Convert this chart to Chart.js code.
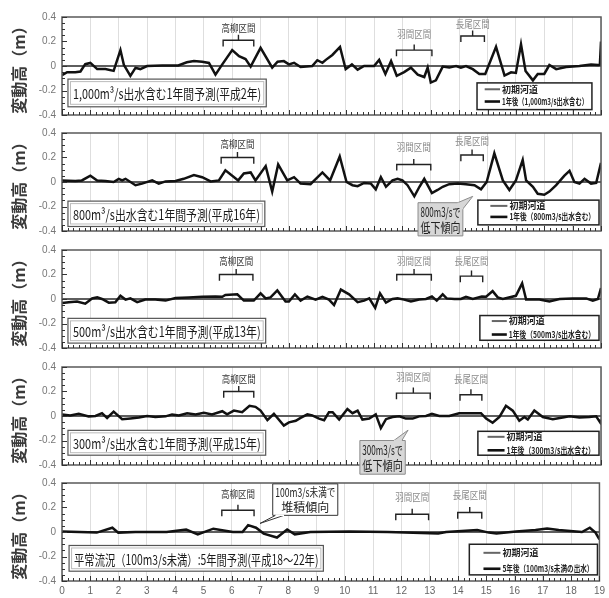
<!DOCTYPE html>
<html><head><meta charset="utf-8">
<script src="https://cdn.jsdelivr.net/npm/chart.js@4.4.1/dist/chart.umd.min.js"></script>
<style>
html,body{margin:0;padding:0;background:#fff;}
#wrap{position:relative;width:609px;height:598px;overflow:hidden;background:#fff;}
canvas{position:absolute;left:0;}
</style></head><body><div id="wrap"></div>
<script>
// ---- data (distance km, bed change m) ----
const xTickValues = [0,1,2,3,4,5,6,7,8,9,10,11,12,13,14,15,16,17,18,19];
const yTickValues = [-0.4,-0.2,0,0.2,0.4];

const baseKm = [0, 19];
const baseDz = [0, 0];

const km1 = [0,0.18,0.47,0.65,0.82,1.0,1.24,1.53,1.82,2.06,2.18,2.41,2.59,2.76,3.0,3.53,4.1,4.4,4.65,4.94,5.18,5.41,5.65,6.0,6.24,6.47,6.65,7.0,7.41,7.6,7.82,8.0,8.18,8.41,8.82,9.0,9.18,9.3,9.53,9.8,10.0,10.22,10.42,10.65,11.0,11.18,11.4,11.6,11.8,12.06,12.3,12.54,12.77,12.89,13.0,13.18,13.42,13.65,13.89,14.06,14.24,14.48,14.71,14.92,15.3,15.6,15.83,16.0,16.18,16.34,16.6,16.77,17.0,17.18,17.42,17.77,18.24,18.65,18.9,18.96,19.0];
const dz1 = [-0.075,-0.05,-0.05,-0.045,0.015,0.025,-0.025,-0.025,-0.04,0.13,0.01,-0.08,-0.015,-0.025,0,0.005,0.005,0.03,0.04,0.035,0.025,-0.07,0.013,0.13,0.08,0.057,-0.005,0.148,-0.013,0.035,0.04,0.013,0.026,-0.008,0,0.047,0.026,0.05,0.09,0.156,-0.026,0.013,-0.03,0,0,0.05,-0.065,0.04,-0.08,-0.05,-0.013,-0.07,-0.09,-0.013,-0.135,-0.117,-0.005,-0.013,0,-0.013,0,-0.026,-0.065,-0.065,0.156,-0.078,-0.052,-0.057,0.177,-0.04,-0.117,-0.065,-0.065,0.008,-0.026,-0.008,0,0.013,0.008,0.01,0.2];

const km2 = [0,0.47,0.7,1.0,1.24,1.53,1.82,2.0,2.12,2.24,2.59,2.82,3.18,3.41,3.65,4.0,4.29,4.65,4.94,5.24,5.53,5.76,6.21,6.41,6.65,6.82,7.18,7.41,7.62,7.94,8.18,8.41,8.76,9.18,9.45,9.79,10.03,10.24,10.42,10.65,10.89,11.06,11.24,11.42,11.65,11.83,12.0,12.18,12.42,12.6,12.77,13.04,13.24,13.42,13.65,13.95,14.24,14.54,14.77,14.97,15.24,15.54,15.77,16.0,16.24,16.36,16.6,16.77,17.0,17.18,17.42,17.71,17.89,18.06,18.24,18.42,18.65,18.83,19.0];
const dz2 = [0.013,0.008,0.013,0.052,0.013,0.008,0,0.026,0.013,0.026,-0.026,-0.013,0.013,-0.013,0.005,0.008,0.026,0.057,0.039,0.005,0.013,0.096,0.013,0.07,0.078,0.013,0.13,-0.078,0.143,0.013,0.039,-0.013,-0.018,0.078,0.013,0.208,0,-0.026,-0.034,-0.008,-0.013,-0.06,0.039,-0.039,0.013,0.026,0.013,-0.026,-0.117,-0.039,0.026,-0.09,-0.065,-0.039,-0.018,-0.013,-0.018,-0.026,-0.06,0,0.234,0.013,-0.065,0.013,0.18,0.013,-0.039,-0.096,-0.104,-0.078,-0.026,0.052,0.091,0,-0.013,0.026,-0.013,-0.008,0.156];

const km3 = [0,0.24,0.53,0.82,1.06,1.24,1.41,1.65,1.88,2.06,2.24,2.41,2.65,2.94,3.29,3.65,4.0,4.47,4.94,5.41,5.65,5.76,6.18,6.41,6.76,7.0,7.18,7.35,7.59,7.88,8.0,8.21,8.41,8.65,8.94,9.18,9.41,9.59,9.83,10.12,10.42,10.65,10.83,11.04,11.21,11.42,11.65,11.83,12.06,12.3,12.59,12.83,13.04,13.21,13.42,13.56,13.83,14.06,14.24,14.48,14.8,14.95,15.18,15.36,15.54,16.0,16.22,16.36,16.83,17.18,17.54,18.0,18.48,18.71,18.89,19.0];
const dz3 = [-0.033,-0.026,-0.02,-0.038,0.005,0.013,0,-0.03,-0.026,0.026,-0.005,0.005,-0.026,-0.005,-0.005,-0.013,0.008,0.013,0.018,0.02,0.018,0.033,0.038,-0.013,-0.013,0.046,0.005,0.013,0.07,-0.02,-0.02,0.038,-0.013,0.02,-0.005,0.018,-0.005,-0.05,0.077,0.038,-0.026,-0.013,0.005,-0.072,0.046,-0.03,0,0.005,-0.005,-0.02,-0.005,0,0.02,-0.013,0.038,0.005,0,0,0.018,0,0.02,0.018,0.064,0.013,0,0.026,0.128,-0.005,-0.005,-0.02,0,0.005,0.005,-0.013,0,0.09];

const km4 = [0,0.29,0.59,0.94,1.18,1.41,1.59,1.82,2.12,2.41,2.71,3.0,3.29,3.65,3.88,4.12,4.41,4.71,5.0,5.29,5.65,5.82,6.06,6.35,6.61,6.82,7.0,7.24,7.47,7.82,8.0,8.24,8.41,8.65,8.82,9.06,9.24,9.41,9.54,9.77,10.06,10.24,10.42,10.59,10.83,11.06,11.24,11.42,11.65,11.89,12.12,12.36,12.59,12.83,13.04,13.3,13.65,14.0,14.36,14.77,14.95,15.18,15.42,15.65,15.89,16.12,16.3,16.42,16.65,16.95,17.3,17.65,17.89,18.24,18.59,18.83,18.97,19.0];
const dz4 = [0.013,0.005,0.018,-0.003,0,0.023,-0.016,0.036,-0.026,-0.02,-0.013,0,-0.008,-0.003,0.013,0.005,0.023,0.013,0.026,0.013,0.039,0.013,0.044,0.031,0.083,0.075,0.044,-0.034,0.018,-0.078,-0.052,-0.039,-0.016,0.013,0.005,-0.021,-0.034,0.031,0.031,-0.029,0.057,0.023,0.044,-0.029,-0.021,0.013,-0.099,-0.026,-0.008,-0.003,-0.021,-0.021,-0.003,0,0.018,0,0,0.023,0.023,0.023,-0.021,-0.055,-0.008,0.083,0.044,-0.039,-0.008,-0.029,0.044,-0.008,-0.026,-0.013,-0.003,-0.013,-0.008,-0.003,-0.052,-0.03];

const km5 = [0,1.23,1.78,1.99,2.6,3.7,4.39,4.8,5.35,6.04,6.38,6.58,6.86,7.13,7.6,7.96,8.23,8.78,10.15,11.52,13.3,13.58,14.68,15.09,15.36,16.05,16.74,17.15,17.56,18.38,18.66,18.86,19.0];
const dz5 = [0.005,-0.005,0.035,-0.005,0,0,0.02,-0.02,0.027,0,0,0.056,0.035,-0.013,-0.045,0.021,-0.019,0,0.005,0,-0.013,0,0.016,-0.005,-0.013,0.005,0.016,0.029,0.016,0,0.035,-0.005,-0.06];

const seriesKm = [km1, km2, km3, km4, km5];
const seriesDz = [dz1, dz2, dz3, dz4, dz5];

const panelTitles = [
  '1,000m³/s出水含む1年間予測(平成2年)',
  '800m³/s出水含む1年間予測(平成16年)',
  '500m³/s出水含む1年間予測(平成13年)',
  '300m³/s出水含む1年間予測(平成15年)',
  '平常流況（100m3/s未満）:5年間予測(平成18～22年)'
];
const baseLabel = '初期河道';
const afterLabels = [
  '1年後（1,000m3/s出水含む）',
  '1年後（800m3/s出水含む）',
  '1年後（500m3/s出水含む）',
  '1年後（300m3/s出水含む）',
  '5年後（100m3/s未満の出水）'
];
const sectionNames = ['高柳区間', '羽間区間', '長尾区間'];
const calloutTexts = [null, ['800m3/sで','低下傾向'], null, ['300m3/sで','低下傾向'], ['100m3/s未満で','堆積傾向']];
const yTitle = '変動高（m）';

// ---- layout / style (km & m coordinates resolved through the scales) ----
const Y04 = [12, 128, 245, 362, 478];
const PLOT_H = 103;
// brackets: [x0, x1, barY, labelY] per section
const bracketPos = [
  [[5.68,6.76,0.21,0.31],[11.79,13.04,0.13,0.26],[14.06,14.89,0.245,0.345]],
  [[5.61,6.76,0.2,0.31],[11.8,13.0,0.143,0.28],[14.06,14.85,0.22,0.335]],
  [[5.55,6.73,0.2,0.31],[11.8,13.02,0.2,0.31],[14.04,14.83,0.187,0.31]],
  [[5.7,6.76,0.2,0.3],[11.79,12.98,0.187,0.315],[14.03,14.8,0.174,0.3]],
  [[5.65,6.79,0.178,0.31],[11.8,12.96,0.145,0.28],[13.99,14.84,0.159,0.3]]
];
const sectionColors = ['#333', '#8a8a8a', '#8a8a8a'];
// title box: [x0,x1,yTop,yBot]
const titleBox = [
  [0.21,7.2,-0.107,-0.333],
  [0.21,7.15,-0.156,-0.363],
  [0.21,7.18,-0.158,-0.36],
  [0.21,7.18,-0.117,-0.32],
  [0.25,9.24,-0.11,-0.32]
];
// legend box: [x0,x1,yTop,yBot,row1,row2,line0,line1]
const legendBox = [
  [14.63,18.68,-0.138,-0.356,-0.19,-0.29,14.9,15.44],
  [14.66,18.93,-0.148,-0.35,-0.195,-0.285,15.1,15.7],
  [14.73,18.93,-0.135,-0.337,-0.18,-0.29,15.15,15.68],
  [14.66,18.93,-0.125,-0.32,-0.17,-0.28,15.0,15.6],
  [14.4,18.93,-0.1,-0.35,-0.17,-0.3,14.9,15.5]
];
// callouts: box [x0,x1,yTop,yBot], tail [[x,y],[x,y],[x,y]], fill, stroke
const calloutPos = [
  null,
  {box:[12.55,14.13,-0.169,-0.44], tail:[[13.95,-0.169],[14.48,-0.117],[14.13,-0.22]], fill:'#d7d7d7', stroke:'#8c8c8c'},
  null,
  {box:[10.5,12.1,-0.2,-0.475], tail:[[11.7,-0.2],[12.2,-0.115],[11.98,-0.2]], fill:'#d7d7d7', stroke:'#8c8c8c'},
  {box:[7.45,9.75,0.393,0.136], tail:[[7.55,0.136],[7.0,0.07],[7.85,0.136]], fill:'#ffffff', stroke:'#333'}
];

const CJK = "'Noto Sans CJK JP', 'Noto Sans', sans-serif";

const deco = {
  id: 'deco',
  afterDatasetsDraw(chart) {
    const i = chart.options.plugins.deco.idx;
    const {ctx, chartArea: a, scales: {x, y}} = chart;
    const X = v => x.getPixelForValue(v), Y = v => y.getPixelForValue(v);
    ctx.save();
    // frame
    ctx.strokeStyle = '#5a5a5a'; ctx.lineWidth = 1.5;
    ctx.strokeRect(a.left, a.top, a.right - a.left, a.bottom - a.top);
    // minor ticks
    ctx.strokeStyle = '#333'; ctx.lineWidth = 1;
    ctx.beginPath();
    for (let k = 0; k <= 95; k++) { const px = Math.round(X(k * 0.2)) + 0.5; ctx.moveTo(px, a.bottom); ctx.lineTo(px, a.bottom - (k % 5 ? 3 : 5)); }
    for (let k = 0; k <= 16; k++) { const py = Math.round(Y(-0.4 + k * 0.05)) + 0.5; ctx.moveTo(a.left, py); ctx.lineTo(a.left + (k % 4 ? 3 : 5), py); }
    ctx.stroke();
    // section brackets
    bracketPos[i].forEach((b, s) => {
      const [x0, x1, bar, ly] = b;
      const mid = (x0 + x1) / 2;
      ctx.strokeStyle = '#222'; ctx.lineWidth = 1.4;
      ctx.beginPath();
      ctx.moveTo(X(x0), Y(bar - 0.05)); ctx.lineTo(X(x0), Y(bar)); ctx.lineTo(X(x1), Y(bar)); ctx.lineTo(X(x1), Y(bar - 0.05));
      ctx.moveTo(X(mid), Y(bar)); ctx.lineTo(X(mid), Y(bar + 0.045));
      ctx.stroke();
      ctx.fillStyle = sectionColors[s];
      ctx.font = '10px ' + CJK; ctx.textAlign = 'center'; ctx.textBaseline = 'middle';
      ctx.fillText(sectionNames[s], X(mid), Y(ly), 34);
    });
    // title box
    {
      const [x0, x1, t, b] = titleBox[i];
      const L = X(x0), R = X(x1), T = Y(t), B = Y(b);
      ctx.fillStyle = '#fff'; ctx.fillRect(L, T, R - L, B - T);
      ctx.strokeStyle = '#bbb'; ctx.lineWidth = 1; ctx.strokeRect(L + 2.5, T + 2.5, R - L - 5, B - T - 5);
      ctx.strokeStyle = '#555'; ctx.lineWidth = 1.2; ctx.strokeRect(L, T, R - L, B - T);
      ctx.fillStyle = '#1a1a1a'; ctx.font = '14px ' + CJK; ctx.textAlign = 'left'; ctx.textBaseline = 'middle';
      ctx.fillText(panelTitles[i], L + 5, (T + B) / 2 + 1, R - L - 10);
    }
    // legend
    {
      const [x0, x1, t, b, r1, r2, l0, l1] = legendBox[i];
      const L = X(x0), R = X(x1), T = Y(t), B = Y(b);
      ctx.fillStyle = '#fff'; ctx.fillRect(L, T, R - L, B - T);
      ctx.strokeStyle = '#222'; ctx.lineWidth = 1.5; ctx.strokeRect(L, T, R - L, B - T);
      const rows = [[r1, '#666', 2, baseLabel], [r2, '#111', 2.6, afterLabels[i]]];
      rows.forEach(([ry, col, w, txt]) => {
        ctx.strokeStyle = col; ctx.lineWidth = w;
        ctx.beginPath(); ctx.moveTo(X(l0), Y(ry)); ctx.lineTo(X(l1), Y(ry)); ctx.stroke();
        ctx.fillStyle = '#222'; ctx.font = 'bold 9px ' + CJK; ctx.textAlign = 'left'; ctx.textBaseline = 'middle';
        ctx.fillText(txt, X(l1) + 2, Y(ry), R - X(l1) - 6);
      });
    }
    // callout
    const c = calloutPos[i];
    if (c) {
      const [x0, x1, t, b] = c.box;
      const L = X(x0), R = X(x1), T = Y(t), B = Y(b);
      ctx.fillStyle = c.fill; ctx.strokeStyle = c.stroke; ctx.lineWidth = 1;
      ctx.beginPath();
      ctx.rect(L, T, R - L, B - T);
      ctx.fill(); ctx.stroke();
      ctx.beginPath();
      ctx.moveTo(X(c.tail[0][0]), Y(c.tail[0][1]));
      ctx.lineTo(X(c.tail[1][0]), Y(c.tail[1][1]));
      ctx.lineTo(X(c.tail[2][0]), Y(c.tail[2][1]));
      ctx.fill(); ctx.stroke();
      ctx.strokeStyle = c.fill; ctx.lineWidth = 1.5;
      ctx.beginPath(); ctx.moveTo(X(c.tail[0][0]), Y(c.tail[0][1])); ctx.lineTo(X(c.tail[2][0]), Y(c.tail[2][1])); ctx.stroke();
      const lines = calloutTexts[i];
      ctx.fillStyle = '#222'; ctx.font = (i === 4 ? '12px ' : '13px ') + CJK; ctx.textAlign = 'center'; ctx.textBaseline = 'middle';
      const h = B - T;
      ctx.fillText(lines[0], (L + R) / 2, T + h * 0.28, R - L - 5);
      ctx.fillText(lines[1], (L + R) / 2, T + h * 0.74, R - L - 5);
    }
    ctx.restore();
  }
};

const wrap = document.getElementById('wrap');
function makePanel(i) {
  const last = i === 4;
  const padTop = 7, padBot = last ? 0 : 14, xH = last ? 17 : 0;
  const h = padTop + PLOT_H + padBot + xH;
  const cv = document.createElement('canvas');
  cv.width = 609; cv.height = h;
  cv.style.width = '609px'; cv.style.height = h + 'px';
  cv.style.top = (Y04[i] - padTop) + 'px';
  wrap.appendChild(cv);
  new Chart(cv, {
    type: 'scatter',
    data: {
      datasets: [
        {label: baseLabel, data: baseKm.map((k, j) => ({x: k, y: baseDz[j]})), showLine: true,
         borderColor: '#5e5e5e', borderWidth: 2.2, pointRadius: 0, order: 1},
        {label: afterLabels[i], data: seriesKm[i].map((k, j) => ({x: k, y: seriesDz[i][j]})), showLine: true,
         borderColor: '#111', borderWidth: 2.5, pointRadius: 0, order: 0, tension: 0}
      ]
    },
    options: {
      responsive: false, animation: false, devicePixelRatio: 1,
      layout: {padding: {top: padTop, bottom: padBot, left: 0, right: 8}},
      plugins: {legend: {display: false}, tooltip: {enabled: false}, deco: {idx: i}},
      scales: {
        x: {
          type: 'linear', min: 0, max: 19,
          afterBuildTicks: s => { s.ticks = xTickValues.map(v => ({value: v})); },
          ticks: {display: last, padding: 4, color: '#666', font: {size: 10, family: "'Liberation Sans', sans-serif"}, callback: v => String(v)},
          grid: {color: '#dedede', drawTicks: false, lineWidth: 1},
          border: {display: false},
          afterFit: s => { s.height = xH; }
        },
        y: {
          type: 'linear', min: -0.4, max: 0.4,
          afterBuildTicks: s => { s.ticks = yTickValues.map(v => ({value: v})); },
          ticks: {padding: 6, color: '#777', font: {size: 10, family: "'Liberation Sans', sans-serif"},
                  callback: v => String(Math.round(v * 10) / 10)},
          grid: {display: false, drawTicks: false},
          border: {display: false},
          title: {display: true, text: yTitle, color: '#3a3a3a', padding: {top: 9, bottom: 0},
                  font: {size: 16, weight: 'bold', family: CJK}},
          afterFit: s => { s.width = 62; }
        }
      }
    },
    plugins: [deco]
  });
}
for (let i = 0; i < 5; i++) makePanel(i);
</script>
</body></html>
